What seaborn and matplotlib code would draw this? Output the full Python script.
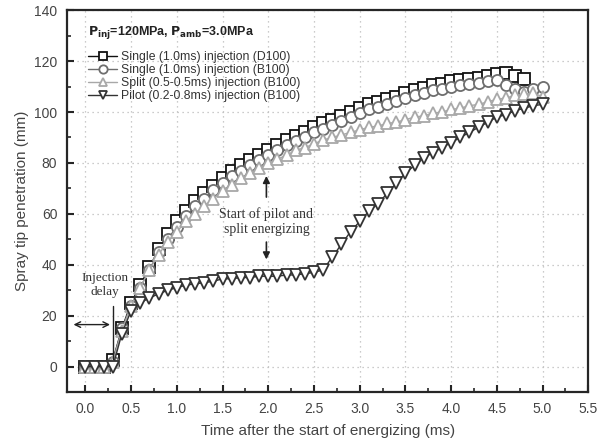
import numpy as np
import pandas as pd
import seaborn as sns
import matplotlib.pyplot as plt
from matplotlib.ticker import MultipleLocator

sns.set_style('ticks')
plt.rcParams['font.family'] = ['Liberation Sans', 'DejaVu Sans']

# time axis (ms), sampled every 0.1 ms
t_full = [round(0.1 * i, 1) for i in range(51)]

single_d100 = [0, 0, 0, 2.5, 15, 25, 32, 39, 46, 52, 57, 61, 65, 68, 71, 74, 77, 79, 81, 83,
               85, 87, 89, 90.5, 92, 94, 95.5, 97, 98.5, 100, 101.5, 103, 104, 105, 106, 107.5,
               108.5, 109.5, 110.5, 111, 112, 112.5, 113, 113.5, 114, 115, 115.5, 114, 113]
single_b100 = [0, 0, 0, 2, 15, 24, 31, 38, 45, 50, 55, 59, 63, 66, 69.5, 72, 75, 77, 79, 81,
               83, 85, 87, 88.5, 90, 92, 93.5, 95, 96.5, 98, 99.5, 101, 102, 103, 104.5, 105.5,
               106.5, 107.5, 108.5, 109, 110, 110.5, 111, 111.5, 112, 112.5, 110.5, 109, 108, 109, 110]
split_b100 = [0, 0, 0, 2, 14, 24, 31, 38, 44, 49, 53, 57, 60, 63, 66, 69, 71.5, 74, 76, 78,
              80, 81.5, 83, 85, 86, 87.5, 89, 90, 91, 92, 93, 94, 94.5, 95.5, 96, 97,
              98, 98.5, 99.5, 100, 101, 101.5, 102.5, 103, 104, 105, 105.5, 106.5, 107, 107.5, 106]
pilot_b100 = [0, 0, 0, 0, 13, 22, 25, 27, 28.5, 30, 31, 32, 32.5, 33, 33.5, 34.5, 34.5, 35, 35, 35.5,
              35.5, 35.5, 36, 36, 36.5, 37, 38, 43, 48, 53, 57, 61, 64, 68, 72, 76,
              79, 82, 84, 86, 88, 90, 92, 94, 96, 98, 99, 100.5, 101.5, 102.5, 103]

series = [
    ('Single (1.0ms) injection (D100)', single_d100, 's', '#111111'),
    ('Single (1.0ms) injection (B100)', single_b100, 'o', '#6e6e6e'),
    ('Split (0.5-0.5ms) injection (B100)', split_b100, '^', '#a8a8a8'),
    ('Pilot (0.2-0.8ms) injection (B100)', pilot_b100, 'v', '#333333'),
]

fig = plt.figure(figsize=(5.99, 4.44), dpi=100)
ax = fig.add_axes([0.112, 0.117, 0.870, 0.860])

for label, vals, mk, col in series:
    sns.lineplot(x=t_full[:len(vals)], y=vals, ax=ax, label=label, color=col, lw=1.0,
                 marker=mk, markersize=8, markerfacecolor='white',
                 markeredgecolor=col, markeredgewidth=1.3)

ax.set_xlim(-0.2, 5.5)
ax.set_ylim(-10, 140)
ax.xaxis.set_major_locator(MultipleLocator(0.5))
ax.xaxis.set_minor_locator(MultipleLocator(0.25))
ax.yaxis.set_major_locator(MultipleLocator(20))
ax.yaxis.set_minor_locator(MultipleLocator(10))
ax.tick_params(which='major', direction='in', length=5, width=1.5, labelsize=10,
               labelcolor='#444444', pad=7)
ax.tick_params(which='minor', direction='in', length=3, width=1.2)
for s in ax.spines.values():
    s.set_linewidth(1.6)
ax.grid(True, which='major', linestyle=(0, (1, 3)), color='#bbbbbb', lw=0.9)

ax.set_xlabel('Time after the start of energizing (ms)', fontsize=11, color='#444444', labelpad=6)
ax.set_ylabel('Spray tip penetration (mm)', fontsize=11, color='#444444')

leg = ax.legend(loc='upper left', bbox_to_anchor=(0.031, 0.905), frameon=False,
                fontsize=8.8, handlelength=2.4, labelspacing=0.08, handletextpad=0.25,
                borderaxespad=0.0, markerscale=0.75)
for txt in leg.get_texts():
    txt.set_color('#333333')
ax.text(0.040, 0.942, r'$\mathbf{P_{inj}}$=120MPa, $\mathbf{P_{amb}}$=3.0MPa',
        transform=ax.transAxes, ha='left', va='center', fontsize=9, fontweight='bold',
        color='#222222')

serif = ['Liberation Serif', 'DejaVu Serif']
ax.text(0.21, 32, 'Injection\ndelay', ha='center', va='center', fontsize=9.5,
        family=serif, color='#333333', linespacing=1.2)
ax.plot([0.3, 0.3], [3, 24], color='#222222', lw=1.0)
ax.annotate('', xy=(-0.16, 16.5), xytext=(0.3, 16.5),
            arrowprops=dict(arrowstyle='<->', color='#222222', lw=1.0))

ax.text(1.98, 57, 'Start of pilot and\nsplit energizing', ha='center', va='center',
        fontsize=10, family=serif, color='#333333', linespacing=1.2)
ax.annotate('', xy=(1.98, 76), xytext=(1.98, 65.5),
            arrowprops=dict(arrowstyle='-|>', color='#222222', lw=1.2))
ax.annotate('', xy=(1.98, 41), xytext=(1.98, 50),
            arrowprops=dict(arrowstyle='-|>', color='#222222', lw=1.2))

fig.savefig('out.png', dpi=100)
